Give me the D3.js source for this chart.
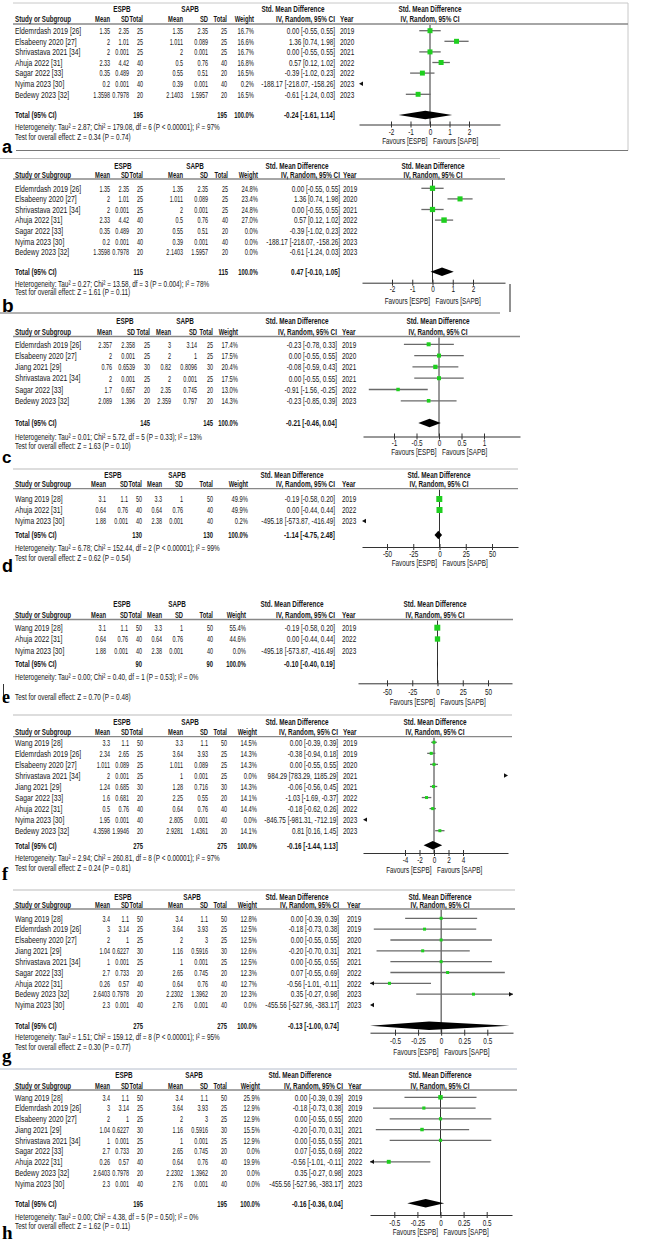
<!DOCTYPE html>
<html><head><meta charset="utf-8">
<script src="https://cdn.jsdelivr.net/npm/d3@7"></script>
<style>html,body{margin:0;padding:0;background:#fff;}svg{display:block;}</style>
</head><body>
<svg id="c" width="648" height="1239"></svg>
<script>
// ---------------- DATA ----------------
const studies7 = ["Eldemrdash 2019 [26]","Elsabeeny 2020 [27]","Shrivastava 2021 [34]","Ahuja 2022 [31]","Sagar 2022 [33]","Nyima 2023 [30]","Bedewy 2023 [32]"];
const ab_espb = [[1.35,2.35,25],[2,1.01,25],[2,0.001,25],[2.33,4.42,40],[0.35,0.489,20],[0.2,0.001,40],[1.3598,0.7978,20]];
const ab_sapb = [[1.35,2.35,25],[1.011,0.089,25],[2,0.001,25],[0.5,0.76,40],[0.55,0.51,20],[0.39,0.001,40],[2.1403,1.5957,20]];
const ab_smd = [[0.00,-0.55,0.55],[1.36,0.74,1.98],[0.00,-0.55,0.55],[0.57,0.12,1.02],[-0.39,-1.02,0.23],[-188.17,-218.07,-158.26],[-0.61,-1.24,0.03]];
const ab_year = [2019,2020,2021,2022,2022,2023,2023];
const a_weight = [16.7,16.6,16.7,16.8,16.5,0.2,16.5];
const a_incl = [1,1,1,1,1,1,1];
const a_total = [195,195,-0.24,-1.61,1.14];
const a_het = "Heterogeneity: Tau² = 2.87; Chi² = 179.08, df = 6 (P < 0.00001); I² = 97%";
const a_test = "Test for overall effect: Z = 0.34 (P = 0.74)";
const a_ticks = [-2,-1,0,1,2];

const b_weight = [24.8,23.4,24.8,27.0,0.0,0.0,0.0];
const b_incl = [1,1,1,1,0,0,0];
const b_total = [115,115,0.47,-0.10,1.05];
const b_het = "Heterogeneity: Tau² = 0.27; Chi² = 13.58, df = 3 (P = 0.004); I² = 78%";
const b_test = "Test for overall effect: Z = 1.61 (P = 0.11)";
const b_ticks = [-2,-1,0,1,2];

const c_study = ["Eldemrdash 2019 [26]","Elsabeeny 2020 [27]","Jiang 2021 [29]","Shrivastava 2021 [34]","Sagar 2022 [33]","Bedewy 2023 [32]"];
const c_espb = [[2.357,2.358,25],[2,0.001,25],[0.76,0.6539,30],[2,0.001,25],[1.7,0.657,20],[2.089,1.396,20]];
const c_sapb = [[3,3.14,25],[2,1,25],[0.82,0.8096,30],[2,0.001,25],[2.35,0.745,20],[2.359,0.797,20]];
const c_weight = [17.4,17.5,20.4,17.5,13.0,14.3];
const c_smd = [[-0.23,-0.78,0.33],[0.00,-0.55,0.55],[-0.08,-0.59,0.43],[0.00,-0.55,0.55],[-0.91,-1.56,-0.25],[-0.23,-0.85,0.39]];
const c_year = [2019,2020,2021,2021,2022,2023];
const c_incl = [1,1,1,1,1,1];
const c_total = [145,145,-0.21,-0.46,0.04];
const c_het = "Heterogeneity: Tau² = 0.01; Chi² = 5.72, df = 5 (P = 0.33); I² = 13%";
const c_test = "Test for overall effect: Z = 1.63 (P = 0.10)";
const c_ticks = [-1,-0.5,0,0.5,1];

const de_study = ["Wang 2019 [28]","Ahuja 2022 [31]","Nyima 2023 [30]"];
const de_espb = [[3.1,1.1,50],[0.64,0.76,40],[1.88,0.001,40]];
const de_sapb = [[3.3,1,50],[0.64,0.76,40],[2.38,0.001,40]];
const de_smd = [[-0.19,-0.58,0.20],[0.00,-0.44,0.44],[-495.18,-573.87,-416.49]];
const de_year = [2019,2022,2023];
const d_weight = [49.9,49.9,0.2];
const d_incl = [1,1,1];
const d_total = [130,130,-1.14,-4.75,2.48];
const d_het = "Heterogeneity: Tau² = 6.78; Chi² = 152.44, df = 2 (P < 0.00001); I² = 99%";
const d_test = "Test for overall effect: Z = 0.62 (P = 0.54)";
const d_ticks = [-50,-25,0,25,50];

const e_weight = [55.4,44.6,0.0];
const e_incl = [1,1,0];
const e_total = [90,90,-0.10,-0.40,0.19];
const e_het = "Heterogeneity: Tau² = 0.00; Chi² = 0.40, df = 1 (P = 0.53); I² = 0%";
const e_test = "Test for overall effect: Z = 0.70 (P = 0.48)";
const e_ticks = [-50,-25,0,25,50];

const f_study = ["Wang 2019 [28]","Eldemrdash 2019 [26]","Elsabeeny 2020 [27]","Shrivastava 2021 [34]","Jiang 2021 [29]","Sagar 2022 [33]","Ahuja 2022 [31]","Nyima 2023 [30]","Bedewy 2023 [32]"];
const f_espb = [[3.3,1.1,50],[2.34,2.65,25],[1.011,0.089,25],[2,0.001,25],[1.24,0.685,30],[1.6,0.681,20],[0.5,0.76,40],[1.95,0.001,40],[4.3598,1.9946,20]];
const f_sapb = [[3.3,1.1,50],[3.64,3.93,25],[1.011,0.089,25],[1,0.001,25],[1.28,0.716,30],[2.25,0.55,20],[0.64,0.76,40],[2.805,0.001,40],[2.9281,1.4361,20]];
const f_weight = [14.5,14.3,14.3,0.0,14.3,14.1,14.4,0.0,14.1];
const f_smd = [[0.00,-0.39,0.39],[-0.38,-0.94,0.18],[0.00,-0.55,0.55],[984.29,783.29,1185.29],[-0.06,-0.56,0.45],[-1.03,-1.69,-0.37],[-0.18,-0.62,0.26],[-846.75,-981.31,-712.19],[0.81,0.16,1.45]];
const f_year = [2019,2019,2020,2021,2021,2022,2022,2023,2023];
const f_incl = [1,1,1,1,1,1,1,1,1];
const f_total = [275,275,-0.16,-1.44,1.13];
const f_het = "Heterogeneity: Tau² = 2.94; Chi² = 260.81, df = 8 (P < 0.00001); I² = 97%";
const f_test = "Test for overall effect: Z = 0.24 (P = 0.81)";
const f_ticks = [-4,-2,0,2,4];

const gh_study = ["Wang 2019 [28]","Eldemrdash 2019 [26]","Elsabeeny 2020 [27]","Jiang 2021 [29]","Shrivastava 2021 [34]","Sagar 2022 [33]","Ahuja 2022 [31]","Bedewy 2023 [32]","Nyima 2023 [30]"];
const gh_espb = [[3.4,1.1,50],[3,3.14,25],[2,1,25],[1.04,0.6227,30],[1,0.001,25],[2.7,0.733,20],[0.26,0.57,40],[2.6403,0.7978,20],[2.3,0.001,40]];
const gh_sapb = [[3.4,1.1,50],[3.64,3.93,25],[2,3,25],[1.16,0.5916,30],[1,0.001,25],[2.65,0.745,20],[0.64,0.76,40],[2.2302,1.3962,20],[2.76,0.001,40]];
const gh_smd = [[0.00,-0.39,0.39],[-0.18,-0.73,0.38],[0.00,-0.55,0.55],[-0.20,-0.70,0.31],[0.00,-0.55,0.55],[0.07,-0.55,0.69],[-0.56,-1.01,-0.11],[0.35,-0.27,0.98],[-455.56,-527.96,-383.17]];
const gh_year = [2019,2019,2020,2021,2021,2022,2022,2023,2023];
const g_weight = [12.8,12.5,12.5,12.6,12.5,12.3,12.7,12.3,0.0];
const g_incl = [1,1,1,1,1,1,1,1,1];
const g_total = [275,275,-0.13,-1.00,0.74];
const g_het = "Heterogeneity: Tau² = 1.51; Chi² = 159.12, df = 8 (P < 0.00001); I² = 95%";
const g_test = "Test for overall effect: Z = 0.30 (P = 0.77)";
const g_ticks = [-0.5,-0.25,0,0.25,0.5];

const h_weight = [25.9,12.9,12.9,15.5,12.9,0.0,19.9,0.0,0.0];
const h_incl = [1,1,1,1,1,0,1,0,0];
const h_total = [195,195,-0.16,-0.36,0.04];
const h_het = "Heterogeneity: Tau² = 0.00; Chi² = 4.38, df = 5 (P = 0.50); I² = 0%";
const h_test = "Test for overall effect: Z = 1.62 (P = 0.11)";
const h_ticks = [-0.5,-0.25,0,0.25,0.5];

// ---------------- LAYOUT ----------------
const panels = [
 {lab:"a", serif:false, labY:153, labFS:18, study:studies7, espb:ab_espb, sapb:ab_sapb, weight:a_weight, smd:ab_smd, year:ab_year, incl:a_incl, total:a_total, het:a_het, test:a_test, ticks:a_ticks,
  h1:9,h2:19,sep:24,sepX:[13,628],y0:30.7,dy:10.6,totY:115,hetY:127,testY:137,axisY:124.5,tickY:131.5,favY:141,
  cols:[110,129,143,183,208,227,254,335,340,122,190,293], tickPx:[391,469], axisPx:[359,500], hdrX:430, sqK:1.22,
  frame:[[13,3,628,3,"#c8c8c8"],[628,3,628,150.5,"#c8c8c8"],[16,150.5,628,150.5,"#777"]]},
 {lab:"b", serif:false, labY:311.5, labFS:19, study:studies7, espb:ab_espb, sapb:ab_sapb, weight:b_weight, smd:ab_smd, year:ab_year, incl:b_incl, total:b_total, het:b_het, test:b_test, ticks:b_ticks,
  h1:166,h2:174.3,sep:179,sepX:[13,505],y0:188.3,dy:10.6,totY:271.7,hetY:283.5,testY:292,axisY:282.7,tickY:289.2,favY:300.7,
  cols:[110,129,143,183,208,228,258,340,343,123,195,297], tickPx:[392,473], axisPx:[362,505], hdrX:433, sqK:1.05,
  frame:[[0,158.5,500,158.5,"#bbb"],[510,284,510,312,"#222"]]},
 {lab:"c", serif:false, labY:463, labFS:17, study:c_study, espb:c_espb, sapb:c_sapb, weight:c_weight, smd:c_smd, year:c_year, incl:c_incl, total:c_total, het:c_het, test:c_test, ticks:c_ticks,
  h1:321,h2:332,sep:336.5,sepX:[13,520],y0:344.3,dy:11.3,totY:423,hetY:437,testY:446,axisY:436.5,tickY:443,favY:452,
  cols:[112,135,150,171,197,213,238,337,342,125,185,297], tickPx:[394,484], axisPx:[363,520], hdrX:438, sqK:0.96,
  frame:[[0,313,500,313,"#666"]]},
 {lab:"d", serif:false, labY:571.5, labFS:18, study:de_study, espb:de_espb, sapb:de_sapb, weight:d_weight, smd:de_smd, year:de_year, incl:d_incl, total:d_total, het:d_het, test:d_test, ticks:d_ticks,
  h1:475,h2:484,sep:488.7,sepX:[13,518],y0:499,dy:11,totY:535,hetY:547.3,testY:557.3,axisY:547,tickY:554,favY:563,
  cols:[106,128,142,162,183,213,248,335,342,113,177,292], tickPx:[387,492], axisPx:[362,518], hdrX:439, sqK:0.85,
  frame:[[13,469,518,469,"#bbb"]]},
 {lab:"e", serif:true, labY:703, labFS:18, study:de_study, espb:de_espb, sapb:de_sapb, weight:e_weight, smd:de_smd, year:de_year, incl:e_incl, total:e_total, het:e_het, test:e_test, ticks:e_ticks,
  h1:604,h2:615,sep:619.5,sepX:[13,513],y0:627.7,dy:11.3,totY:664,hetY:676.7,testY:697,axisY:683.3,tickY:691.5,favY:701.7,
  cols:[106,128,142,162,183,213,246,335,342,122,177,292], tickPx:[387,488], axisPx:[358,512], hdrX:435, sqK:0.8,
  frame:[[3.5,684,3.5,702,"#333"]]},
 {lab:"f", serif:true, labY:880, labFS:18, study:f_study, espb:f_espb, sapb:f_sapb, weight:f_weight, smd:f_smd, year:f_year, incl:f_incl, total:f_total, het:f_het, test:f_test, ticks:f_ticks,
  h1:722,h2:731.7,sep:736.7,sepX:[13,512],y0:742.3,dy:11.05,totY:845.3,hetY:858,testY:868,axisY:853,tickY:860,favY:870,
  cols:[110,129,143,183,208,227,257,338,343,122,190,297], tickPx:[405,463], axisPx:[363,508], hdrX:435, sqK:0.8,
  frame:[[13,715,512,715,"#bbb"]]},
 {lab:"g", serif:true, labY:1062, labFS:19, study:gh_study, espb:gh_espb, sapb:gh_sapb, weight:g_weight, smd:gh_smd, year:gh_year, incl:g_incl, total:g_total, het:g_het, test:g_test, ticks:g_ticks,
  h1:896.7,h2:905,sep:909,sepX:[13,515],y0:918.3,dy:10.84,totY:1025.7,hetY:1036.7,testY:1046.7,axisY:1032.7,tickY:1040.7,favY:1051.7,
  cols:[110,129,143,183,208,227,257,339,347,123,192,297], tickPx:[395,487.3], axisPx:[370,513], hdrX:440, sqK:0.85,
  frame:[[13,890,515,890,"#bbb"]]},
 {lab:"h", serif:true, labY:1239, labFS:19, study:gh_study, espb:gh_espb, sapb:gh_sapb, weight:h_weight, smd:gh_smd, year:gh_year, incl:h_incl, total:h_total, het:h_het, test:h_test, ticks:h_ticks,
  h1:1075,h2:1086,sep:1090,sepX:[13,517],y0:1097.3,dy:10.75,totY:1203.3,hetY:1216.7,testY:1226,axisY:1215,tickY:1222.7,favY:1231.7,
  cols:[110,129,143,183,208,227,260,343,348,124,194,300], tickPx:[394.3,486.7], axisPx:[370,512], hdrX:440, sqK:0.88,
  frame:[[0,1069,517,1069,"#b4bccb"]]}
];

// ---------------- DRAW ----------------
const SX = 0.68, SXN = 0.58, FS = 9.4;
const SANS = "'Liberation Sans', Arial, sans-serif";
const svg = d3.select("#c");
svg.append("rect").attr("width",648).attr("height",1239).attr("fill","#fff");

function T(g, x, y, s, o = {}) {
  return g.append("text")
    .attr("transform", `translate(${x},${y}) scale(${o.sx || SX},1)`)
    .attr("text-anchor", o.a || "start").attr("dy", "0.35em")
    .style("font-family", o.ff || SANS).style("font-size", (o.fs || FS) + "px")
    .style("font-weight", o.b ? "bold" : "normal").attr("fill", o.c || "#161616").text(s);
}
const f2 = v => v.toFixed(2);
const ciTxt = (m, l, h) => `${f2(m)} [${f2(l)}, ${f2(h)}]`;

panels.forEach(P => {
  const g = svg.append("g");
  const C = P.cols;
  P.frame.forEach(([x1,y1,x2,y2,col]) => g.append("line").attr("x1",x1).attr("y1",y1).attr("x2",x2).attr("y2",y2).attr("stroke",col).attr("stroke-width",1));
  g.append("line").attr("x1",P.sepX[0]).attr("x2",P.sepX[1]).attr("y1",P.sep).attr("y2",P.sep).attr("stroke","#888").attr("stroke-width",1.3);

  T(g, C[9], P.h1, "ESPB", {a:"middle", b:true});
  T(g, C[10], P.h1, "SAPB", {a:"middle", b:true});
  T(g, C[11], P.h1, "Std. Mean Difference", {a:"middle", b:true});
  T(g, P.hdrX, P.h1, "Std. Mean Difference", {a:"middle", b:true});
  T(g, 15, P.h2, "Study or Subgroup", {b:true, sx:0.66});
  ["Mean","SD","Total","Mean","SD","Total","Weight"].forEach((s,i) => T(g, C[i], P.h2, s, {a:"end", b:true, sx:0.62}));
  T(g, C[7], P.h2, "IV, Random, 95% CI", {a:"end", b:true});
  T(g, C[8], P.h2, "Year", {b:true});
  T(g, P.hdrX, P.h2, "IV, Random, 95% CI", {a:"middle", b:true});

  const yRow = d3.scaleLinear().domain([0,1]).range([P.y0, P.y0 + P.dy]);
  P.study.forEach((s,i) => {
    const y = yRow(i);
    T(g, 15, y, s, {sx:0.72});
    const vals = [P.espb[i][0], P.espb[i][1], P.espb[i][2], P.sapb[i][0], P.sapb[i][1], P.sapb[i][2]];
    vals.forEach((v,j) => T(g, C[j], y, String(v), {a:"end", sx:SXN}));
    T(g, C[6], y, P.weight[i].toFixed(1) + "%", {a:"end", sx:0.62});
    T(g, C[7], y, ciTxt(...P.smd[i]), {a:"end"});
    T(g, C[8], y, String(P.year[i]));
  });
  T(g, 15, P.totY, "Total (95% CI)", {b:true});
  T(g, C[2], P.totY, String(P.total[0]), {a:"end", b:true, sx:0.62});
  T(g, C[5], P.totY, String(P.total[1]), {a:"end", b:true, sx:0.62});
  T(g, C[6], P.totY, "100.0%", {a:"end", b:true, sx:0.62});
  T(g, C[7], P.totY, ciTxt(P.total[2], P.total[3], P.total[4]), {a:"end", b:true});
  T(g, 15, P.hetY, P.het);
  T(g, 15, P.testY, P.test);

  const t0 = P.ticks[0], t1 = P.ticks[P.ticks.length-1];
  const base = d3.scaleLinear().domain([t0,t1]).range(P.tickPx);
  const x = d3.scaleLinear().domain([base.invert(P.axisPx[0]), base.invert(P.axisPx[1])]).range(P.axisPx);
  const [dMin, dMax] = x.domain();
  const ax = g.append("g").attr("transform", `translate(0,${P.axisY})`)
    .call(d3.axisBottom(x).tickValues(P.ticks).tickSizeOuter(0).tickSizeInner(3).tickFormat(d => String(d)));
  ax.select(".domain").attr("stroke","#333").attr("stroke-width",1);
  ax.selectAll(".tick line").attr("y1",-3).attr("y2",3).attr("stroke","#333");
  ax.selectAll(".tick text").attr("y", P.tickY - P.axisY).attr("dy","0.35em")
    .attr("transform", `scale(${SX},1)`).style("font-family",SANS).style("font-size",FS+"px").attr("fill","#161616");

  g.append("line").attr("x1",x(0)).attr("x2",x(0)).attr("y1",P.sep + 1).attr("y2",P.axisY).attr("stroke","#333").attr("stroke-width",1);

  T(g, x(0) - 2.5, P.favY, "Favours [ESPB]", {a:"end"});
  T(g, x(0) + 3, P.favY, "Favours [SAPB]");

  const arrow = (xe, y, dir) => {
    g.append("path").attr("d", `M${xe},${y} L${xe - dir*4},${y-2.2} L${xe - dir*4},${y+2.2} Z`).attr("fill","#111");
  };
  const sz = d3.scaleSqrt().domain([0,100]).range([0, P.sqK * 10]);

  P.study.forEach((s,i) => {
    if (!P.incl[i]) return;
    const y = yRow(i);
    const [m, lo, hi] = P.smd[i];
    if (m < dMin || m > dMax) {
      if (m < dMin) arrow(P.axisPx[0], y, -1); else arrow(P.axisPx[1], y, 1);
      return;
    }
    const xl = x(Math.max(lo, dMin)), xh = x(Math.min(hi, dMax));
    g.append("line").attr("x1",xl).attr("x2",xh).attr("y1",y).attr("y2",y).attr("stroke","#6a6a6a").attr("stroke-width",1.3);
    if (lo < dMin) arrow(P.axisPx[0], y, -1);
    if (hi > dMax) arrow(P.axisPx[1], y, 1);
    const w = Math.max(2.6, sz(P.weight[i]));
    g.append("rect").attr("x", x(m) - w/2).attr("y", y - w/2).attr("width", w).attr("height", w).attr("fill","#1fcf1f");
  });

  const [tm, tl, th] = P.total.slice(2);
  const cl = v => Math.max(dMin, Math.min(dMax, v));
  const yd = P.totY;
  g.append("path").attr("d", `M${x(cl(tl))},${yd} L${x(tm)},${yd-4.2} L${x(cl(th))},${yd} L${x(tm)},${yd+4.2} Z`).attr("fill","#000");

  T(g, 2, P.labY, P.lab, {b:true, fs:P.labFS, sx:1, ff: P.serif ? "'Liberation Serif','Times New Roman',serif" : SANS, c:"#000"}).attr("dy", 0);
});
</script>
</body></html>
